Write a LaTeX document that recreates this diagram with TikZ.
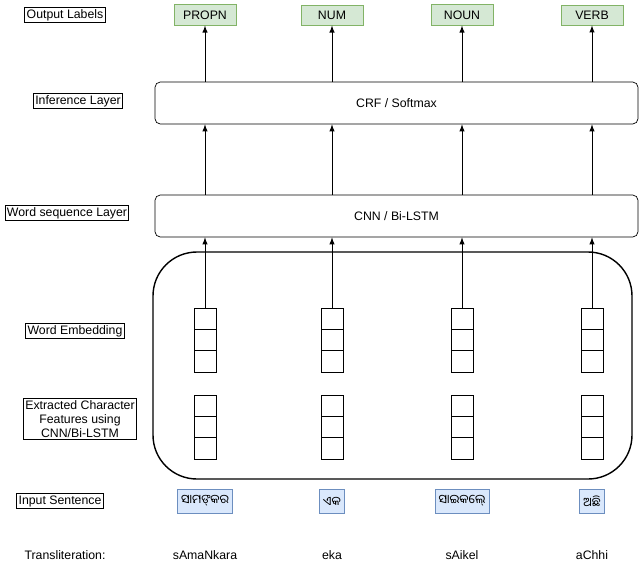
\documentclass[tikz,border=0pt]{standalone}
\usepackage{fontspec}
\setmainfont{Liberation Sans}
\newfontfamily\odia{Noto Sans Oriya}
\usetikzlibrary{positioning,calc}
\definecolor{outfill}{HTML}{D5E8D4}
\definecolor{outdraw}{HTML}{82B366}
\definecolor{infill}{HTML}{DAE8FC}
\definecolor{indraw}{HTML}{6C8EBF}

\begin{document}
\begin{tikzpicture}[x=0.02cm,y=-0.02cm,
    font=\fontsize{7}{8}\selectfont,
    side/.style={draw,semithick,inner sep=1pt},
    outlab/.style={draw=outdraw,fill=outfill,minimum width=62*0.02cm,minimum height=20*0.02cm},
    inlab/.style={draw=indraw,fill=infill,minimum height=24*0.02cm,inner sep=2pt},
    layer/.style={draw,rounded corners=3pt,minimum width=483*0.02cm,minimum height=42*0.02cm},
    cell/.style={draw,minimum width=22*0.02cm,minimum height=21.3*0.02cm,inner sep=0pt},
    arr/.style={-latex}]
    \useasboundingbox (0,0) rectangle (640,575);

    % side labels
    \node[side] (lout) at (65,15) {Output Labels};
    \node[side] (linf) at (78,101) {Inference Layer};
    \node[side] (lseq) at (67,213) {Word sequence Layer};
    \node[side] (lemb) at (75,331) {Word Embedding};
    \node[side,align=center] (lchr) at (80,419) {Extracted Character\\Features using\\CNN/Bi-LSTM};
    \node[side] (lin) at (60,501) {Input Sentence};
    \node (ltr) at (65,555) {Transliteration:};

    % layers
    \node[layer] (inf) at (396.5,103) {CRF / Softmax};
    \node[layer] (seq) at (396.5,216) {CNN / Bi-LSTM};
    \draw[thick,rounded corners=25pt] (153,252) rectangle (632,479);

    % columns
    \foreach \x/\tag/\word/\tr in {205/PROPN/ସାମଙ୍କର/sAmaNkara, 332/NUM/ଏକ/eka, 462/NOUN/ସାଇକେଲ୍/sAikel, 592/VERB/ଅଛି/aChhi}{
      \node[outlab] (o\x) at (\x,15) {\tag};
      \node[cell] (e\x a) at (\x,318.7) {};
      \node[cell] (e\x b) at (\x,340) {};
      \node[cell] (e\x c) at (\x,361.3) {};
      \node[cell] (c\x a) at (\x,405.7) {};
      \node[cell] (c\x b) at (\x,427) {};
      \node[cell] (c\x c) at (\x,448.3) {};
      \node[inlab] (w\x) at (\x,501) {\odia\word};
      \node (t\x) at (\x,555) {\tr};
      \draw[arr] (e\x a.north) -- (e\x a.north |- seq.south);
      \draw[arr] (e\x a.north |- seq.north) -- (e\x a.north |- inf.south);
      \draw[arr] (e\x a.north |- inf.north) -- (o\x.south);
    }
\end{tikzpicture}
\end{document}
